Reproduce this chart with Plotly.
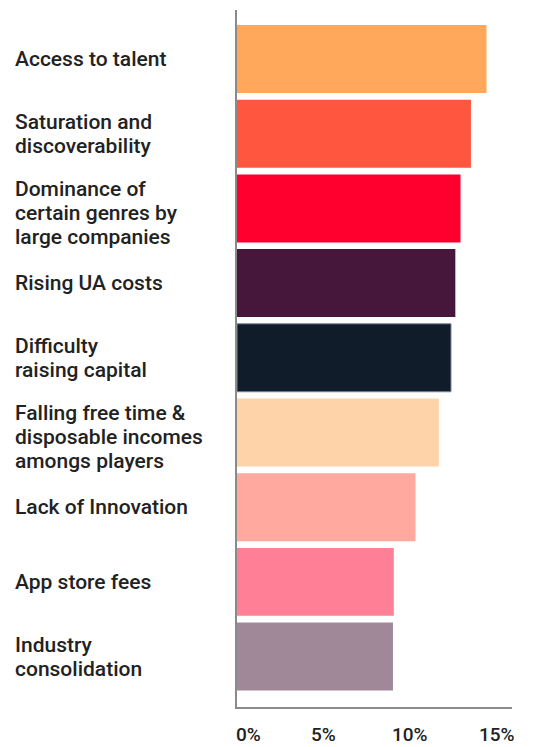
import plotly.graph_objects as go

# Survey: biggest challenges facing the games industry (share of respondents, %)
categories = [
    "Access to talent",
    "Saturation and<br>discoverability",
    "Dominance of<br>certain genres by<br>large companies",
    "Rising UA costs",
    "Difficulty<br>raising capital",
    "Falling free time &<br>disposable incomes<br>amongs players",
    "Lack of Innovation",
    "App store fees",
    "Industry<br>consolidation",
]
values = [14.4, 13.5, 12.9, 12.6, 12.35, 11.65, 10.3, 9.05, 9.0]
colors = [
    "#FFA75A", "#FF563F", "#FF002E", "#46163B", "#101C2A",
    "#FFD3AA", "#FFA99F", "#FF7F96", "#A08899",
]
line_colors = ["rgba(0,0,0,0)"] * 4 + ["#7C8794"] + ["rgba(0,0,0,0)"] * 4

tick_vals = [0, 5, 10, 15]
tick_text = ["0%", "5%", "10%", "15%"]

font_family = "Roboto, 'Noto Sans', sans-serif"
text_color = "#222222"
label_font = dict(family=font_family, size=21, color=text_color, weight=500)
line_step = 24  # px between lines of a wrapped category label

fig = go.Figure(
    go.Bar(
        x=values,
        y=list(range(len(categories))),
        orientation="h",
        marker=dict(color=colors, line=dict(color=line_colors, width=1)),
        hoverinfo="skip",
    )
)

# Category labels, left-aligned in the left margin, one annotation per line
for i, label in enumerate(categories):
    lines = label.split("<br>")
    n = len(lines)
    extra = -5 if n == 3 else 0
    for j, line in enumerate(lines):
        fig.add_annotation(
            x=-0.8145, xref="paper", y=i, yref="y",
            text=line, showarrow=False,
            xanchor="left", yanchor="middle", align="left",
            yshift=-(j - (n - 1) / 2) * line_step + extra,
            font=label_font,
        )

# Percentage tick labels below the axis
for v, t in zip(tick_vals, tick_text):
    fig.add_annotation(
        x=v, xref="x", y=-0.039, yref="paper",
        text=t, showarrow=False,
        xanchor="left" if v == 0 else "center", yanchor="middle",
        xshift=-3 if v == 0 else 0,
        font=dict(family=font_family, size=19, color=text_color, weight=500),
    )

fig.update_layout(
    width=533, height=747,
    margin=dict(l=237, r=21, t=10, b=40),
    paper_bgcolor="white", plot_bgcolor="white",
    bargap=0.09,
    showlegend=False,
    xaxis=dict(
        range=[0, 15.87], showgrid=False, zeroline=False,
        showticklabels=False, ticks="",
        showline=True, linecolor="#8A8A8A", linewidth=2,
        fixedrange=True,
    ),
    yaxis=dict(
        range=[8.675, -0.656], showgrid=False, zeroline=False,
        showticklabels=False, ticks="",
        showline=True, linecolor="#8A8A8A", linewidth=2,
        fixedrange=True,
    ),
)

fig.write_html("out.html")
